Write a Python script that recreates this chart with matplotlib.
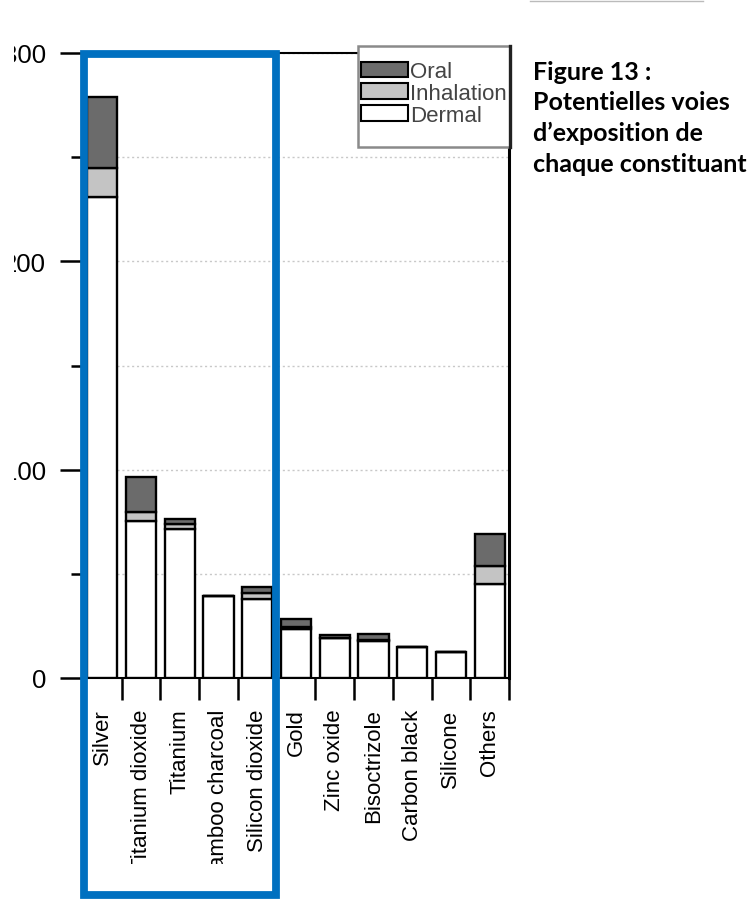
"""
Figure 13: potentielles voies d'exposition de chaque constituant (barres empilées).
"""

import matplotlib
matplotlib.use("Agg")
import matplotlib.pyplot as plt
import matplotlib.patches as mpatches
from matplotlib.lines import Line2D
from matplotlib.transforms import Bbox, TransformedBbox
import numpy as np

# Données
categories = ['Silver', 'Titanium dioxide', 'Titanium', 'Bamboo charcoal',
              'Silicon dioxide', 'Gold', 'Zinc oxide', 'Bisoctrizole',
              'Carbon black', 'Silicone', 'Others']
dermal = [231.0, 75.5, 71.5, 39.2, 38.0, 23.5, 19.2, 17.8, 14.9, 12.5, 45.0]
inhalation = [14.0, 4.0, 2.5, 0.0, 2.8, 1.2, 0.2, 0.6, 0.0, 0.0, 9.0]
oral = [34.0, 17.0, 2.3, 0.3, 2.8, 3.5, 1.2, 2.5, 0.0, 0.0, 15.0]

y_ticks = [0, 100, 200, 300]
y_minor = [50, 150, 250]

W, H = 749, 904
fig = plt.figure(figsize=(W / 100, H / 100), dpi=100)
ax = fig.add_axes([83 / W, 1 - 679 / H, (509 - 83) / W, 625 / H])

x = np.arange(len(categories))
dermal = np.array(dermal)
inhalation = np.array(inhalation)
oral = np.array(oral)
bar_kw = dict(width=0.78, edgecolor='black', linewidth=1.7, zorder=3)

ax.bar(x, dermal, color='white', **bar_kw)
ax.bar(x, inhalation, bottom=dermal, color='#c4c4c4', **bar_kw)
ax.bar(x, oral, bottom=dermal + inhalation, color='#6b6b6b', **bar_kw)

ax.set_xlim(-0.5, len(categories) - 0.5)
ax.set_ylim(0, 300)

# Achsen / Ticks
ax.set_yticks(y_ticks)
ax.set_yticks(y_minor, minor=True)
ax.tick_params(axis='y', which='major', length=16.5, width=1.8, pad=10,
               labelsize=18.5)
ax.tick_params(axis='y', which='minor', length=9, width=1.8)
ax.set_xticks(np.arange(len(categories) + 1) - 0.5)
ax.set_xticklabels([])
ax.set_xticks(x, minor=True)
ax.set_xticklabels(categories, minor=True, rotation=90, va='top', ha='center',
                   fontsize=16)
ax.tick_params(axis='x', which='major', length=16, width=1.8)
ax.tick_params(axis='x', which='minor', length=0, pad=22)
for lab in ax.get_xticklabels(minor=True) + ax.get_yticklabels():
    lab.set_fontfamily('Liberation Sans')

for s in ax.spines.values():
    s.set_linewidth(1.5)
ax.spines['right'].set_linewidth(2.2)

# Grille pointillée
ax.set_axisbelow(True)
ax.yaxis.grid(True, which='both', linestyle=(0, (1.5, 2)), color='#c8c8c8',
              linewidth=1.0)

# Rognage des étiquettes (image d'origine coupée)
clip_x = TransformedBbox(Bbox([[0, 39 / H], [1, 0.3]]), fig.transFigure)
for lab in ax.get_xticklabels(minor=True):
    lab.set_clip_box(clip_x)
    lab.set_clip_on(True)
clip_y = TransformedBbox(Bbox([[14 / W, 0], [0.2, 1]]), fig.transFigure)
for lab in ax.get_yticklabels():
    lab.set_clip_box(clip_y)
    lab.set_clip_on(True)

# Légende (cadre dessiné à part)
fig.add_artist(mpatches.Rectangle((358 / W, 1 - 148 / H), (510 - 358) / W,
                                  (148 - 47) / H, transform=fig.transFigure,
                                  facecolor='white', edgecolor='#8a8a8a',
                                  lw=1.8, zorder=8))
fig.add_artist(Line2D([510 / W] * 2, [1 - 148 / H, 1 - 47 / H], color='#222222',
                      lw=2.4, transform=fig.transFigure, zorder=9))
handles = [mpatches.Patch(facecolor='#6b6b6b', edgecolor='black', lw=1.5, label='Oral'),
           mpatches.Patch(facecolor='#c4c4c4', edgecolor='black', lw=1.5, label='Inhalation'),
           mpatches.Patch(facecolor='white', edgecolor='black', lw=1.5, label='Dermal')]
leg = fig.legend(handles=handles, loc='upper left',
                 bbox_to_anchor=(361 / W, 1 - 62 / H),
                 prop={'family': 'Liberation Sans', 'size': 16},
                 frameon=False, handlelength=2.1, handleheight=0.68,
                 handletextpad=0.12, labelspacing=0.04, borderpad=0,
                 borderaxespad=0)
leg.set_zorder(9)
for t in leg.get_texts():
    t.set_color('#444444')

# Cadre bleu
fig.add_artist(mpatches.Rectangle((84 / W, 1 - 896 / H), (276 - 84) / W,
                                  (896 - 55) / H, transform=fig.transFigure,
                                  fill=False, edgecolor='#0070C0', lw=5.6,
                                  zorder=10))
fig.add_artist(Line2D([530 / W, 703 / W], [1 - 1.5 / H] * 2, color='#bbbbbb',
                      lw=1.0, transform=fig.transFigure))

# Titre de la figure
fig.text(533 / W, 1 - 61 / H,
         "Figure 13 :\nPotentielles voies\nd\u2019exposition de\nchaque constituant",
         ha='left', va='top', fontsize=18, fontweight='bold',
         family='Lato', linespacing=1.39)

fig.savefig('out.png', dpi=100)
plt.close(fig)
